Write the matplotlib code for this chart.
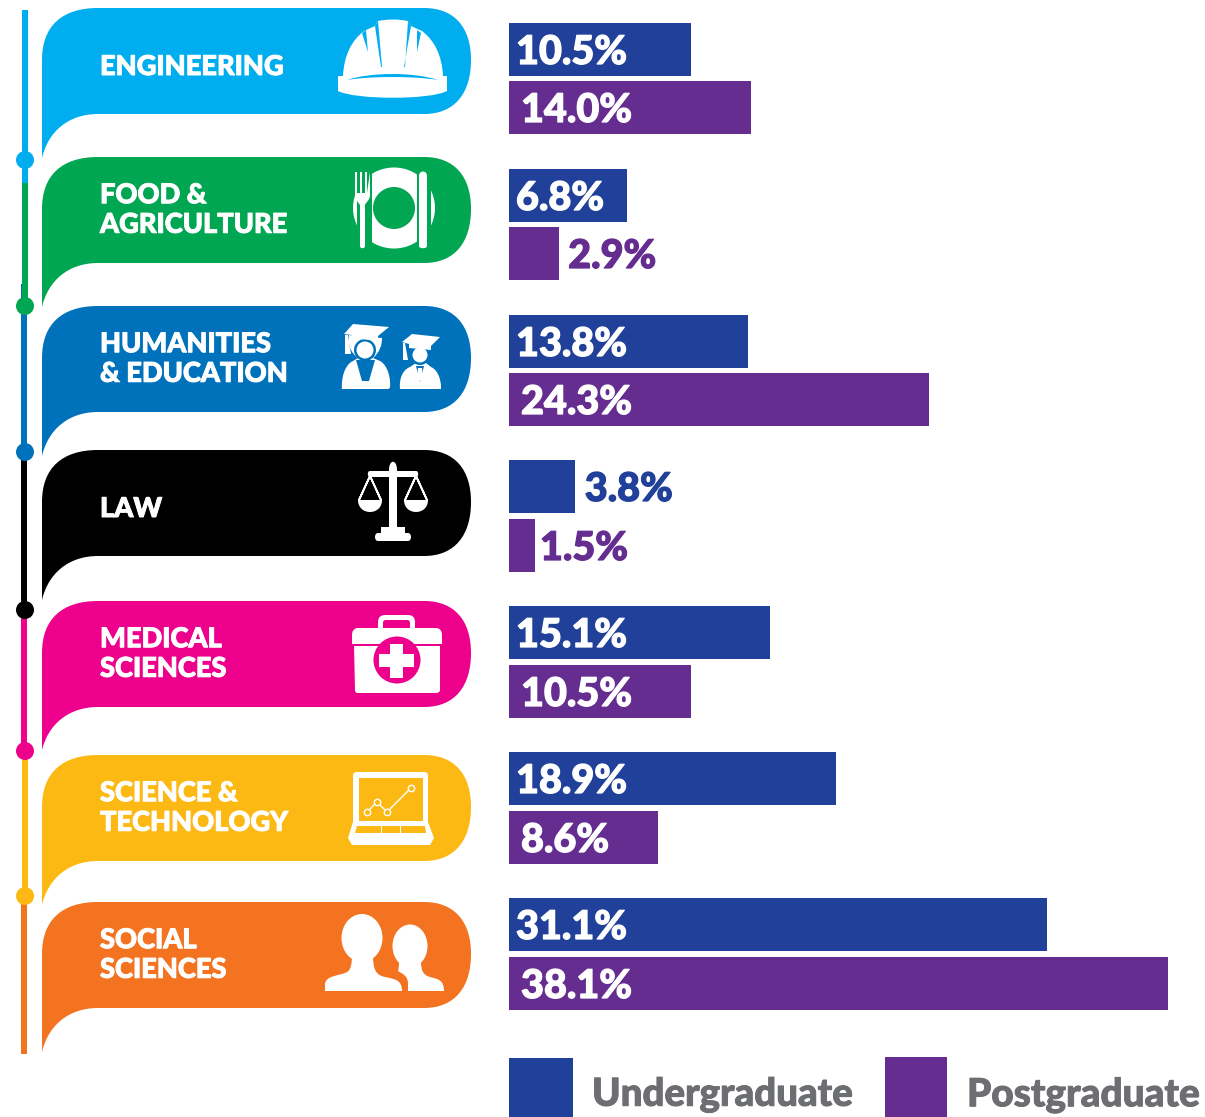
import re
import matplotlib
matplotlib.use("Agg")
import matplotlib.pyplot as plt
import matplotlib.patheffects as pe
from matplotlib.patches import Circle, Ellipse, PathPatch, Rectangle
from matplotlib.path import Path

# chart values
categories = ["ENGINEERING", "FOOD &\nAGRICULTURE", "HUMANITIES\n& EDUCATION", "LAW",
              "MEDICAL\nSCIENCES", "SCIENCE &\nTECHNOLOGY", "SOCIAL\nSCIENCES"]
undergraduate = [10.5, 6.8, 13.8, 3.8, 15.1, 18.9, 31.1]
postgraduate = [14.0, 2.9, 24.3, 1.5, 10.5, 8.6, 38.1]
series_names = ["Undergraduate", "Postgraduate"]

# colours
flag_colors = ["#00AEEF", "#00A651", "#0072BC", "#000000", "#EC008C", "#FDB913", "#F47321"]
ug_color = "#21409A"
pg_color = "#662D91"
grey = "#6D6E71"

# layout, in image pixels
W, H = 1205, 1117
flag_top = [8, 157, 306, 450, 601, 755, 902]
flag_tail = [158, 307, 456, 600, 750, 905, 1052]
dots = [160, 306, 452, 610, 751, 896]
ug_top = [23, 169, 315, 460, 606, 752, 898]
pg_top = [81, 227, 373, 519, 665, 811, 957]
bar_h = 53
bar_left = 509
px_per_pct = 17.3
text_font = ["Lato", "Open Sans", "DejaVu Sans"]

plt.rcParams["font.family"] = text_font

fig = plt.figure(figsize=(W / 100, H / 100), dpi=100)
ax = fig.add_axes([0, 0, 1, 1])
ax.set_xlim(0, W)
ax.set_ylim(H, 0)
ax.axis("off")


def svg(d):
    # small path reader: M, L, C and Z with absolute pixel coordinates
    verts, codes = [], []
    for cmd, args in re.findall(r"([MLCZ])([^MLCZ]*)", d):
        nums = [float(n) for n in args.replace(",", " ").split()]
        pts = list(zip(nums[0::2], nums[1::2]))
        if cmd == "M":
            verts += pts
            codes += [Path.MOVETO]
        elif cmd == "L":
            verts += pts
            codes += [Path.LINETO] * len(pts)
        elif cmd == "C":
            verts += pts
            codes += [Path.CURVE4] * len(pts)
        else:
            verts += [verts[-1]]
            codes += [Path.CLOSEPOLY]
    return Path(verts, codes)


def draw(d, color="white", z=3):
    ax.add_patch(PathPatch(svg(d), fc=color, ec="none", lw=0, zorder=z))


def heavy(color, w=0.9):
    # the reference lettering is heavier than any installed bold
    return [pe.withStroke(linewidth=w, foreground=color)]


# timeline on the left
seg_start = [10, 183, 284, 452, 580, 751, 896]
seg_end = [183, 306, 452, 610, 751, 896, 1054]
seg_x = [22, 22, 21, 21, 21, 22, 21]
seg_z = [1.3, 1.4, 1.2, 1.5, 1.4, 1.5, 1.3]
for c, s, e, x, z in zip(flag_colors, seg_start, seg_end, seg_x, seg_z):
    ax.add_patch(Rectangle((x, s), 6, e - s, fc=c, ec="none", zorder=z))
for c, y in zip(flag_colors, dots):
    ax.add_patch(Circle((25, y), 9, fc=c, ec="none", zorder=2))

# speech-bubble flags with category names
for i, name in enumerate(categories):
    t = flag_top[i]
    b = t + 106
    tip = flag_tail[i]
    draw(f"M42 {tip} L42 {t + 52} C42 {t + 18} 62 {t} 98 {t} L424 {t} C455 {t} 471 {t + 20} 471 {t + 52} "
         f"C471 {t + 85} 455 {b} 424 {b} L98 {b} C68 {b} 48 {b + 18} 42 {tip} Z", flag_colors[i], 2)
    ty = t + 53 if "\n" in name else t + 59
    ax.text(100, ty, name, color="white", fontsize=19.6, fontweight=900, va="center", ha="left",
            linespacing=1.28, zorder=3, path_effects=heavy("white", 0.7))

# engineering: hard hat
c = flag_colors[0]
draw("M338 76 L343 76 C344 55 352 40 364 31 L375 26 L378 21 C388 19 398 19 408 21 L411 26 L422 31 "
     "C434 40 442 55 443 76 L447 76 L447 91 C430 100 356 100 338 91 Z")
draw("M375 26 L381 67 L382 67 L378 21 Z", c)
draw("M411 26 L404 67 L405 67 L408 21 Z", c)
draw("M362 33 L368 52 L366 30 Z", c)
draw("M421 33 L417 52 L417 30 Z", c)
draw("M347 80 C370 72 415 72 438 80 C415 76 370 76 347 80 Z", c)

# food: plate and cutlery
c = flag_colors[1]
ax.add_patch(Ellipse((394, 208), 82, 81, fc="white", ec="none", zorder=3))
ax.add_patch(Rectangle((357, 165), 15, 85, fc=c, ec="none", zorder=3.1))
ax.add_patch(Rectangle((417, 165), 14, 85, fc=c, ec="none", zorder=3.1))
ax.add_patch(Circle((394, 208), 21, fc=c, ec="none", zorder=3.1))
draw("M355 172 L357 172 L357 193 L360 193 L360 172 L362 172 L362 193 L365 193 L365 172 L367 172 L367 193 "
     "L370 172 L370 195 C370 200 366 202 365 205 L365 246 C365 249 360 249 360 246 L360 205 C358 202 355 200 355 195 Z",
     "white", 3.2)
draw("M419 176 C419 170 427 170 427 176 L427 246 C427 249 419 249 419 246 Z", "white", 3.2)

# humanities: two graduates
c = flag_colors[2]
draw("M342 389 C341 380 344 365 353 361 L358 358 C350 352 348 345 349 335 L382 338 C382 345 380 352 373 358 "
     "L380 361 C388 365 391 380 390 387 C390 388 389 389 388 389 Z")
draw("M356 360 L362 381 L369 381 L375 360 Z", c, 3.1)
ax.add_patch(Circle((365, 350), 11, fc=c, ec="none", zorder=3.1))
ax.add_patch(Circle((365, 350), 8.5, fc="white", ec="none", zorder=3.2))
draw("M344 334 L353 324 L389 327 L378 336 L378 341 L352 338 L352 335 Z", "white", 3.3)
draw("M345 335 L348 335 L351 354 L345 354 Z", "white", 3.3)
draw("M400 389 C399 380 402 370 410 367 L416 363 L426 363 L431 367 C438 370 441 380 441 387 L441 389 Z")
ax.add_patch(Circle((420, 355), 10, fc=c, ec="none", zorder=3.1))
ax.add_patch(Circle((420, 355), 7.5, fc="white", ec="none", zorder=3.2))
draw("M416 366 L420 382 L424 366 Z", c, 3.1)
draw("M418 368 L422 368 L423 378 L420 381 L417 378 Z", "white", 3.2)
draw("M402 342 L412 334 L440 337 L431 346 L431 350 L409 348 L409 344 Z", "white", 3.3)
draw("M403 343 L405 343 L408 360 L403 360 Z", "white", 3.3)

# law: scales
draw("M389 470 C389 459 397 459 397 470 L397 471 L416 471 C419 471 419 477 416 477 L397 477 L397 527 L405 527 "
     "L405 533 L408 533 C412 533 412 541 408 541 L378 541 C374 541 374 533 378 533 L381 533 L381 527 L389 527 "
     "L389 477 L370 477 C367 477 367 471 370 471 L389 471 Z")
for px in [370, 416]:
    draw(f"M{px - 12} 500 L{px + 12} 500 C{px + 12} 516 {px - 12} 516 {px - 12} 500 Z")
    ax.plot([px, px - 11, px, px + 11, px], [476, 500, 476, 500, 476], color="white", lw=1.3, zorder=3)

# medical: first aid box
c = flag_colors[4]
draw("M378 628 L378 622 C378 617 381 615 385 615 L408 615 C412 615 415 617 415 622 L415 628 L410 628 L410 623 "
     "C410 621 409 620 407 620 L386 620 C384 620 383 621 383 623 L383 628 Z")
draw("M358 628 L436 628 C440 628 442 631 442 635 L442 644 L440 645 L440 690 C440 692 438 693 436 693 L358 693 "
     "C356 693 355 692 355 690 L354 645 L352 644 L352 635 C352 631 354 628 358 628 Z")
ax.add_patch(Rectangle((352, 644), 90, 1.5, fc=c, ec="none", zorder=3.1))
ax.add_patch(Circle((397, 660), 23.5, fc=c, ec="none", zorder=3.2))
draw("M390 644 L403 644 L403 654 L414 654 L414 667 L403 667 L403 678 L390 678 L390 667 L379 667 L379 654 L390 654 Z",
     "white", 3.3)

# science: laptop with a small line chart
c = flag_colors[5]
draw("M353 775 C353 773 355 772 357 772 L424 772 C426 772 428 773 428 775 L428 822 L434 838 L430 845 L352 845 L348 838 L353 822 Z")
draw("M359 778 L423 778 L423 821 L359 821 Z", c)
draw("M357 826 L381 826 L381 833 L355 833 Z", c)
draw("M382 826 L400 826 L400 833 L382 833 Z", c)
draw("M401 826 L425 826 L426 833 L401 833 Z", c)
ax.plot([367, 377, 387, 411], [812, 802, 812, 788], color="white", lw=1, zorder=3.2,
        marker="o", ms=4.6, mfc=c, mec="white", mew=1)

# social: two people
c = flag_colors[6]
ax.add_patch(Ellipse((362, 938), 41, 48, fc="white", ec="none", zorder=3))
draw("M352 955 L373 955 C373 970 376 975 385 977 C395 979 402 980 402 991 L325 991 L325 984 C326 975 340 976 347 972 C351 970 352 963 352 955 Z")
ax.add_patch(Ellipse((410, 946), 35, 43, fc="white", ec="none", zorder=3))
draw("M399 962 L421 962 C421 970 423 975 430 977 C438 979 444 980 444 991 L408 991 L408 984 C408 976 403 974 398 971 C399 968 399 965 399 962 Z")

# grouped bars on their own percent axis
ax_b = fig.add_axes([bar_left / W, 0, (W - bar_left) / W, 1])
ax_b.set_xlim(0, (W - bar_left) / px_per_pct)
ax_b.set_ylim(H, 0)
ax_b.axis("off")
ax_b.patch.set_alpha(0)
ax_b.barh([t + bar_h / 2 for t in ug_top], undergraduate, height=bar_h, color=ug_color)
ax_b.barh([t + bar_h / 2 for t in pg_top], postgraduate, height=bar_h, color=pg_color)


def value_label(v, y, inside_dx, outside_dx, color):
    # small bars carry their value outside, in the bar colour
    if v < 6:
        ax_b.annotate(f"{v:.1f}%", (v, y), xytext=(outside_dx, -3), textcoords="offset pixels",
                      color=color, fontsize=28.5, fontweight=900, va="center", ha="left",
                      path_effects=heavy(color))
    else:
        ax_b.annotate(f"{v:.1f}%", (0, y), xytext=(inside_dx, -3), textcoords="offset pixels",
                      color="white", fontsize=28.5, fontweight=900, va="center", ha="left",
                      path_effects=heavy("white"))


for i in range(len(categories)):
    value_label(undergraduate[i], ug_top[i] + bar_h / 2, 7, 10, ug_color)
    outside = 9 if postgraduate[i] > 2 else 5
    value_label(postgraduate[i], pg_top[i] + bar_h / 2, 12, outside, pg_color)

# legend
ax.add_patch(Rectangle((509, 1058), 64, 59, fc=ug_color, ec="none"))
ax.add_patch(Rectangle((885, 1057), 62, 60, fc=pg_color, ec="none"))
ax.text(592, 1095, series_names[0], color=grey, fontsize=27.7, fontweight=900, va="center", ha="left",
        path_effects=heavy(grey, 0.7))
ax.text(967, 1095, series_names[1], color=grey, fontsize=27.9, fontweight=900, va="center", ha="left",
        path_effects=heavy(grey, 0.7))

fig.savefig("out.png", dpi=100)
